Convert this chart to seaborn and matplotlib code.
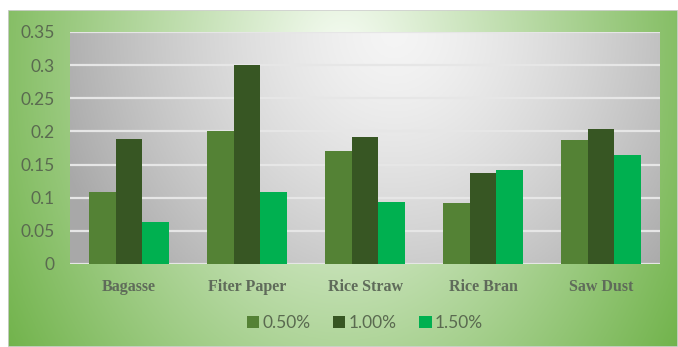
import numpy as np
import pandas as pd
import matplotlib
matplotlib.use("Agg")
import matplotlib.pyplot as plt
import seaborn as sns
from matplotlib.patches import Rectangle

# Biomass substrates and measured values per concentration
substrates = ["Bagasse", "Fiter Paper", "Rice Straw", "Rice Bran", "Saw Dust"]
concentrations = ["0.50%", "1.00%", "1.50%"]
vals_050 = [0.108, 0.200, 0.171, 0.092, 0.187]
vals_100 = [0.189, 0.300, 0.191, 0.138, 0.203]
vals_150 = [0.064, 0.108, 0.093, 0.142, 0.165]
y_ticks = [0, 0.05, 0.1, 0.15, 0.2, 0.25, 0.3, 0.35]
y_labels = ["0", "0.05", "0.1", "0.15", "0.2", "0.25", "0.3", "0.35"]

df = pd.DataFrame({
    "Substrate": substrates * 3,
    "Concentration": [c for c in concentrations for _ in substrates],
    "Value": vals_050 + vals_100 + vals_150,
})

palette = {"0.50%": "#548235", "1.00%": "#375623", "1.50%": "#00b050"}
tick_color = "#5a6a50"

W, H = 678, 347
fig = plt.figure(figsize=(W / 100, H / 100), dpi=100)
fig.patch.set_facecolor("white")

# Green radial-gradient chart background
bg = fig.add_axes([8 / W, 0, (W - 8) / W, (H - 10) / H], zorder=0)
bg.set_axis_off()
ny, nx = 200, 400
yy, xx = np.mgrid[0:1:ny * 1j, 0:1:nx * 1j]
d = np.sqrt(((xx - 0.5) / 0.6) ** 2 + ((yy - 0.15) / 1.6) ** 2)
t = np.clip(d, 0, 1) ** 1.0
c_in = np.array([0.97, 0.99, 0.96])
c_out = np.array([0.44, 0.70, 0.29])
img = c_in[None, None, :] * (1 - t[..., None]) + c_out[None, None, :] * t[..., None]
bg.imshow(img, aspect="auto", extent=[0, 1, 1, 0], origin="upper")
bg.set_xlim(0, 1)
bg.set_ylim(1, 0)
bg.add_patch(Rectangle((0, 0), 1, 1, transform=bg.transAxes, fill=False,
                       edgecolor="#d0d0d0", linewidth=1.2))

# Plot area
L, R, T, B = 70, 660, 32, 264
ax = fig.add_axes([L / W, (H - B) / H, (R - L) / W, (B - T) / H], zorder=1)

# Grey gradient behind the bars
gy, gx = np.mgrid[0:1:100j, 0:1:400j]
gd = np.sqrt(((gx - 0.55) / 0.6) ** 2 + ((gy - 0.0) / 1.6) ** 2)
gt = np.clip(gd, 0, 1) ** 1.4
g_in = np.array([0.96, 0.96, 0.96])
g_out = np.array([0.66, 0.66, 0.66])
gimg = g_in[None, None, :] * (1 - gt[..., None]) + g_out[None, None, :] * gt[..., None]
ax.imshow(gimg, aspect="auto", extent=[-0.5, 4.5, 0, 0.35], origin="upper", zorder=0)

for yv in y_ticks:
    ax.axhline(yv, color="#e6e6e6", linewidth=1.6, zorder=1)

sns.barplot(data=df, x="Substrate", y="Value", hue="Concentration",
            order=substrates, hue_order=concentrations, palette=palette,
            width=0.67, saturation=1, edgecolor="none", ax=ax, zorder=2)

ax.set_xlim(-0.5, 4.5)
ax.set_ylim(0, 0.35)
ax.set_yticks(y_ticks)
ax.set_yticklabels(y_labels, fontfamily="Lato", fontsize=12.5, color=tick_color)
ax.set_xticks(range(len(substrates)))
ax.set_xticklabels(substrates, fontfamily="Liberation Serif", fontweight="bold",
                   fontsize=11.5, color="#5f6b5a")
ax.tick_params(axis="both", length=0)
ax.tick_params(axis="y", pad=11)
ax.tick_params(axis="x", pad=11)
ax.set_xlabel("")
ax.set_ylabel("")
for s in ax.spines.values():
    s.set_visible(False)
ax.set_facecolor("none")

leg = ax.legend(loc="center", bbox_to_anchor=(0.5, -(323 - B) / (B - T)),
                ncol=3, frameon=False, handlelength=0.7, handleheight=0.7,
                handletextpad=0.2, columnspacing=1.3,
                prop={"family": "Lato", "size": 12.5})
for txt in leg.get_texts():
    txt.set_color(tick_color)

fig.savefig("out.png", dpi=100)
